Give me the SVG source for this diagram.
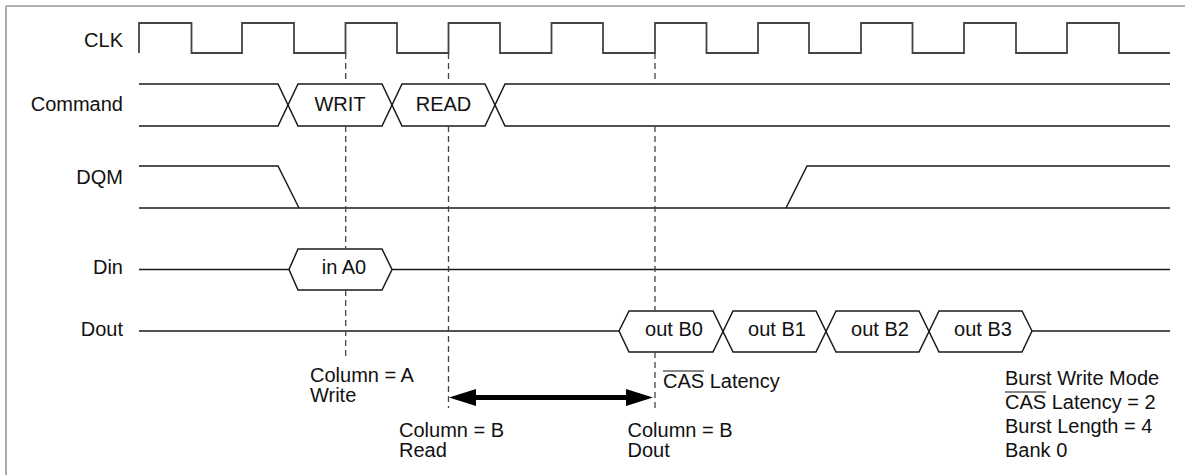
<svg xmlns="http://www.w3.org/2000/svg" width="1185" height="475" viewBox="0 0 1185 475">
<style>
text{font-family:"Liberation Sans",Arial,sans-serif;font-size:20px;fill:#111}
.lbl{text-anchor:end}
.mid{text-anchor:middle}
.sig{fill:none;stroke:#1a1a1a;stroke-width:1.5;stroke-linejoin:miter}
.clk{fill:none;stroke:#444;stroke-width:1.8}
.box{fill:#fff;stroke:#1a1a1a;stroke-width:1.5}
.dash{stroke:#444;stroke-width:1.3;stroke-dasharray:6,4;fill:none}
</style>
<rect width="1185" height="475" fill="#fff"/>
<g id="frame">
<line x1="6" y1="6" x2="1185" y2="6" stroke="#666" stroke-width="1.2"/>
<line x1="6" y1="6" x2="6" y2="475" stroke="#aaa" stroke-width="2"/>
</g>
<g id="clk">
<text class="lbl" x="123" y="47">CLK</text>
<path class="clk" d="M139,53 V23 H191.5 V53 H242 V23 H294 V53 H345.5 V23 H397 V53 H448.5 V23 H500 V53 H551.5 V23 H603 V53 H655 V23 H706.5 V53 H758 V23 H809 V53 H861 V23 H912.5 V53 H964 V23 H1016 V53 H1067 V23 H1119 V53 H1170"/>
</g>
<g id="command">
<text class="lbl" x="123" y="111">Command</text>
<path class="sig" d="M139,84 H278 L298,126 H382 L402,84 H485 L505,126 H1170"/>
<path class="sig" d="M139,126 H278 L298,84 H382 L402,126 H485 L505,84 H1170"/>
<text class="mid" x="340" y="111">WRIT</text>
<text class="mid" x="443.5" y="111">READ</text>
</g>
<g id="dqm">
<text class="lbl" x="123" y="184">DQM</text>
<path class="sig" d="M139,166 H278 L299,208"/>
<path class="sig" d="M139,208 H1170"/>
<path class="sig" d="M786,208 L807,166 H1170"/>
</g>
<g id="din">
<text class="lbl" x="123" y="274">Din</text>
<path class="sig" d="M139,269.5 H289 M392,269.5 H1170"/>
<polygon class="box" points="289,269.5 298,249 382,249 392,269.5 382,290 298,290"/>
<text class="mid" x="344" y="274">in A0</text>
</g>
<g id="dout">
<text class="lbl" x="123" y="335.5">Dout</text>
<path class="sig" d="M139,331 H619 M1032,331 H1170"/>
<path class="sig" d="M619,331 L629,311 H713 L733,352 H816 L836,311 H919 L939,352 H1022 L1032,331"/>
<path class="sig" d="M619,331 L629,352 H713 L733,311 H816 L836,352 H919 L939,311 H1022 L1032,331"/>
<text class="mid" x="674" y="335.5">out B0</text>
<text class="mid" x="777" y="335.5">out B1</text>
<text class="mid" x="880" y="335.5">out B2</text>
<text class="mid" x="983" y="335.5">out B3</text>
</g>
<g id="connectors">
<path class="dash" d="M345.7,53 V84 M345.7,126 V249 M345.7,290 V357"/>
<path class="dash" d="M448.5,53 V84 M448.5,126 V408"/>
<path class="dash" d="M655,53 V84 M655,126 V311 M655,352 V408"/>
<g id="cas-arrow" fill="#000">
<rect x="470" y="395" width="162" height="5"/>
<polygon points="449,397.5 476,389 476,406"/>
<polygon points="653,397.5 626,389 626,406"/>
</g>
</g>
<g id="notes">
<text x="310" y="382">Column = A</text>
<text x="310" y="402">Write</text>
<text x="399" y="437">Column = B</text>
<text x="399" y="457">Read</text>
<text x="627.5" y="437">Column = B</text>
<text x="627.5" y="457">Dout</text>
<text x="663" y="388">CAS Latency</text>
<line x1="663" y1="371" x2="704" y2="371" stroke="#111" stroke-width="1.2"/>
<text x="1005" y="385">Burst Write Mode</text>
<text x="1005" y="409">CAS Latency = 2</text>
<line x1="1005" y1="392" x2="1046" y2="392" stroke="#111" stroke-width="1.2"/>
<text x="1005" y="433">Burst Length = 4</text>
<text x="1005" y="457">Bank 0</text>
</g>
</svg>
